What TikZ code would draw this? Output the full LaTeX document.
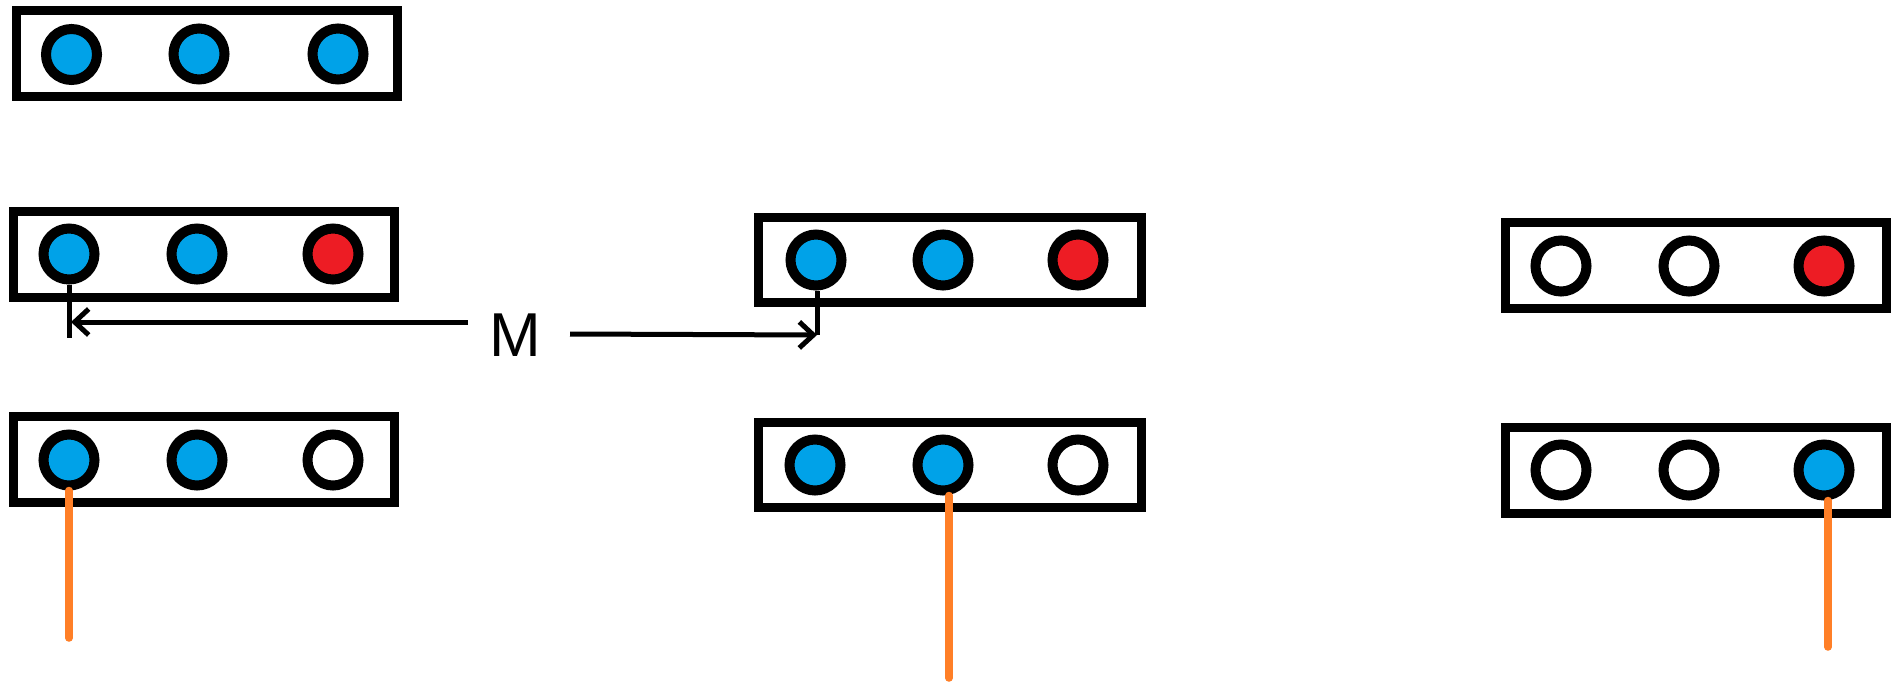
\documentclass[tikz,border=0pt]{standalone}
\usepackage{fontspec}
\setmainfont{Liberation Sans}
\usetikzlibrary{arrows.meta}
\definecolor{pblue}{HTML}{00A2E8}
\definecolor{pred}{HTML}{ED1C24}
\definecolor{porange}{HTML}{FF7F27}
\tikzset{
  holder/.style={draw=black, line width=9pt, fill=white},
  ball/.style={circle, draw=black, line width=10pt, inner sep=0pt, minimum size=51pt},
  bball/.style={ball, fill=pblue},
  rball/.style={ball, fill=pred},
  eball/.style={ball, fill=white},
  tick/.style={draw=black, line width=5pt},
  meas/.style={draw=black, line width=5pt, -{Straight Barb[length=14pt,width=26pt,line width=5pt]}},
  lead/.style={draw=porange, line width=7.5pt, line cap=round},
}
\begin{document}
\begin{tikzpicture}[x=1pt,y=-1pt]
\useasboundingbox[fill=white] (0,0) rectangle (1902,682);
% boxes
\draw[holder] (16.5,10.5) rectangle (397.5,96.5);
\draw[holder] (13.5,211.5) rectangle (394.5,297.5);
\draw[holder] (13.5,416.5) rectangle (394.5,502.5);
\draw[holder] (758.5,217.5) rectangle (1141.5,302.5);
\draw[holder] (758.5,422.5) rectangle (1141.5,507.5);
\draw[holder] (1505.5,222.5) rectangle (1886.5,308.5);
\draw[holder] (1505.5,427.5) rectangle (1886.5,513.5);
% balls row 1
\node[bball] (a1) at (71.5,54.5) {};
\node[bball] (b1) at (199,54) {};
\node[bball] (c1) at (338,54) {};
% row 2 left
\node[bball] (a2) at (69,254) {};
\node[bball] (b2) at (197,254) {};
\node[rball] (c2) at (333,254) {};
% row 3 left
\node[bball] (a3) at (69,460) {};
\node[bball] (b3) at (197,460) {};
\node[eball] (c3) at (333,460) {};
% middle
\node[bball] (m2a) at (816,260) {};
\node[bball] (m2b) at (943,260) {};
\node[rball] (m2c) at (1078,260) {};
\node[bball] (m3a) at (815,465) {};
\node[bball] (m3b) at (943,465) {};
\node[eball] (m3c) at (1078,465) {};
% right
\node[eball] (r2a) at (1561,266) {};
\node[eball] (r2b) at (1689,266) {};
\node[rball] (r2c) at (1824,266) {};
\node[eball] (r3a) at (1561,470) {};
\node[eball] (r3b) at (1689,470) {};
\node[bball] (r3c) at (1824,470) {};
% measurement M
\node[font=\fontsize{62}{62}\selectfont, inner sep=0pt] (M) at (515,335) {M};
\coordinate (tl) at (69,338);
\coordinate (tr) at (817,335);
\coordinate (ml) at (468,322);
\coordinate (al) at (71,322);
\coordinate (mr) at (570,334);
\draw[tick] (a2.south) -- (tl);
\draw[tick] (m2a.south) ++(1,0) -- (tr);
\draw[meas] (ml) -- (al);
\draw[meas] (mr) -- (tr);
% orange leads
\coordinate (o1) at (69,638);
\coordinate (o2) at (949,678);
\coordinate (o3) at (1828,647);
\draw[lead] (a3.south) -- (o1);
\draw[lead] ([xshift=6pt]m3b.south) -- (o2);
\draw[lead] ([xshift=4pt]r3c.south) -- (o3);
\end{tikzpicture}
\end{document}
